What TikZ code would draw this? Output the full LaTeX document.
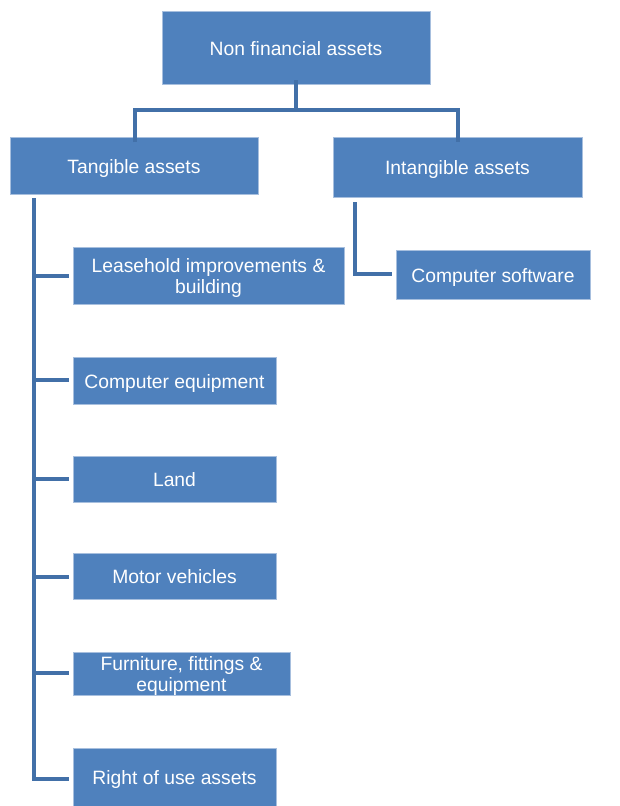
\documentclass[tikz,border=0pt]{standalone}
\usepackage{fontspec}
\setmainfont{Liberation Sans}
\definecolor{boxblue}{HTML}{4F81BD}
\definecolor{boxedge}{HTML}{A7BFDE}
\definecolor{linkblue}{HTML}{4270A8}
\newcommand\bxtxt[1]{\raisebox{-3.5pt}[\height][\depth]{\begin{tabular}{@{}c@{}}#1\end{tabular}}}
\begin{document}
\begin{tikzpicture}[x=1pt,y=-1pt,
  box/.style={rectangle,fill=boxblue,draw=boxedge,line width=0.8pt,text=white,
    font=\fontsize{19.3}{20.5}\selectfont,inner sep=0pt,outer sep=0pt,anchor=north west},
  link/.style={draw=linkblue,line width=3.6pt,line cap=butt,line join=miter}]
\useasboundingbox (0,0) rectangle (619,806);
\node[box,minimum width=268pt,minimum height=73pt] (root) at (162,11) {\bxtxt{Non financial assets}};
\node[box,minimum width=248pt,minimum height=57pt] (tang) at (10,137) {\bxtxt{Tangible assets}};
\node[box,minimum width=249pt,minimum height=60pt] (intang) at (333,137) {\bxtxt{Intangible assets}};
\node[box,minimum width=271pt,minimum height=57pt] (lease) at (73,247) {\bxtxt{Leasehold improvements \&\\building}};
\node[box,minimum width=203pt,minimum height=47pt] (comp) at (73,357) {\bxtxt{Computer equipment}};
\node[box,minimum width=203pt,minimum height=46pt] (land) at (73,456) {\bxtxt{Land}};
\node[box,minimum width=203pt,minimum height=46pt] (motor) at (73,553) {\bxtxt{Motor vehicles}};
\node[box,minimum width=217pt,minimum height=43pt] (furn) at (73,652) {\bxtxt{Furniture, fittings \&\\equipment}};
\node[box,minimum width=203pt,minimum height=58pt] (rou) at (73,748) {\bxtxt{Right of use assets}};
\node[box,minimum width=194pt,minimum height=49pt] (soft) at (396,250) {\bxtxt{Computer software}};
% root to level 2
\coordinate (rj) at (296,110);
\coordinate (tj) at (135,110);
\coordinate (ij) at (458,110);
\draw[link] ([yshift=4pt]root.south) -- (rj);
\draw[link] ([yshift=-5pt]tang.north -| tj) -- (tj) -- (ij) -- ([yshift=-5pt]intang.north -| ij);
% tangible trunk
\coordinate (tt) at (34,198);
\coordinate (tb) at (34,779);
\draw[link] (tt) -- (tb) -- ([xshift=-4pt]rou.west |- tb);
\draw[link] (tt |- 0,276) -- ([xshift=-4pt]lease.west |- 0,276);
\draw[link] (tt |- 0,380) -- ([xshift=-4pt]comp.west |- 0,380);
\draw[link] (tt |- 0,479) -- ([xshift=-4pt]land.west |- 0,479);
\draw[link] (tt |- 0,577) -- ([xshift=-4pt]motor.west |- 0,577);
\draw[link] (tt |- 0,673) -- ([xshift=-4pt]furn.west |- 0,673);
% intangible
\coordinate (it) at (355,202);
\coordinate (ib) at (355,274);
\draw[link] (it) -- (ib) -- ([xshift=-4pt]soft.west |- ib);
\end{tikzpicture}
\end{document}
